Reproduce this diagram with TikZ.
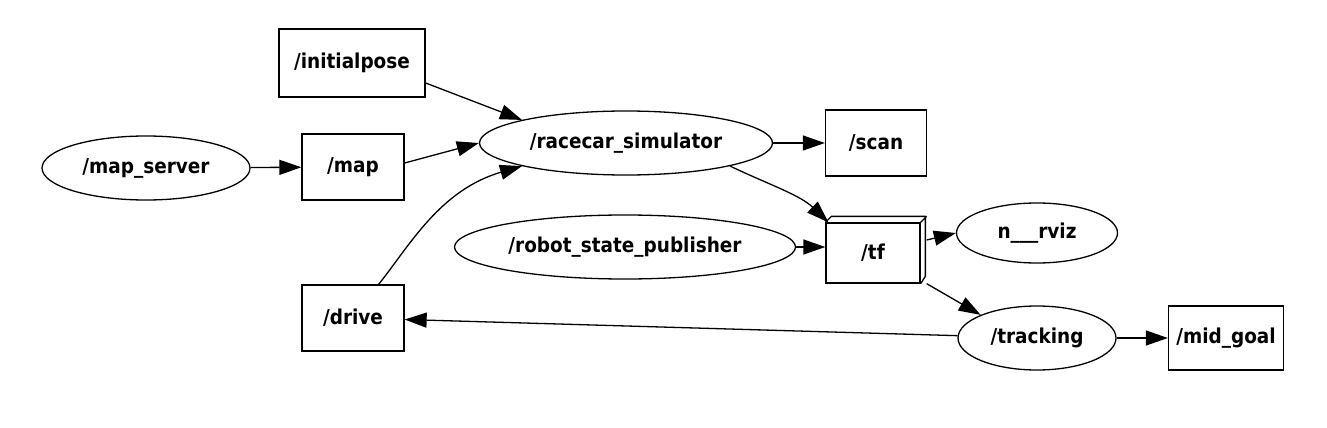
\documentclass[tikz,border=0pt]{standalone}
\usepackage{fontspec}
\setmainfont{DejaVu Sans Condensed}
\usetikzlibrary{arrows.meta,shapes.geometric}
\begin{document}
\begin{tikzpicture}[x=1pt,y=-1pt,
  every node/.style={font=\bfseries\fontsize{20.5}{23}\selectfont, line width=1.3pt, inner sep=0pt},
  topic/.style={draw, rectangle, minimum width=#1, minimum height=66},
  topic/.default=102,
  proc/.style={draw, ellipse, minimum width=#1, minimum height=64},
  edge/.style={line width=1.3pt, -{Triangle[length=22pt,width=15pt]}}]
\useasboundingbox (0,0) rectangle (1327,428);
\node[topic=146, minimum height=68] (initialpose) at (352,63) {/initialpose};
\node[proc=208] (mapserver) at (146,168) {/map\_server};
\node[topic] (map) at (353,167) {/map};
\node[proc=293] (racecar) at (626,143) {/racecar\_simulator};
\node[topic=101] (scan) at (876,143) {/scan};
\node[proc=341] (rsp) at (625,247) {/robot\_state\_publisher};
\node[topic=94, minimum height=60] (tf) at (873,253) {/tf};
\draw[line width=1.3pt] (tf.north west) -- ++(6,-6) -- ++(94,0) -- ++(0,60) -- (tf.south east)
  (tf.north east) -- ++(6,-6);
\node[proc=161, minimum height=60] (rviz) at (1037,233) {n\_\_\_rviz};
\node[topic] (drive) at (353,318) {/drive};
\node[proc=158] (tracking) at (1037,338) {/tracking};
\node[topic=115, minimum height=64] (midgoal) at (1226,338) {/mid\_goal};

\draw[edge] (initialpose.east |- 0,83) -- (racecar.north west);
\draw[edge] (mapserver) -- (map);
\draw[edge] (map.east |- 0,163) -- (racecar.west);
\draw[edge] (drive.north east) ++(-26,0) .. controls (410,245) and (440,190) .. (racecar.south west);
\draw[edge] (racecar) -- (scan);
\draw[edge] (racecar.south east) .. controls (770,185) and (800,195) .. ([xshift=3]tf.north west);
\draw[edge] (rsp) -- (tf.west |- rsp);
\draw[edge] ([xshift=6]tf.east |- 0,240) -- (rviz.west);
\draw[edge] ([xshift=6]tf.south east) -- (tracking.north west);
\draw[edge] (tracking) -- (drive);
\draw[edge] (tracking) -- (midgoal);
\end{tikzpicture}
\end{document}
